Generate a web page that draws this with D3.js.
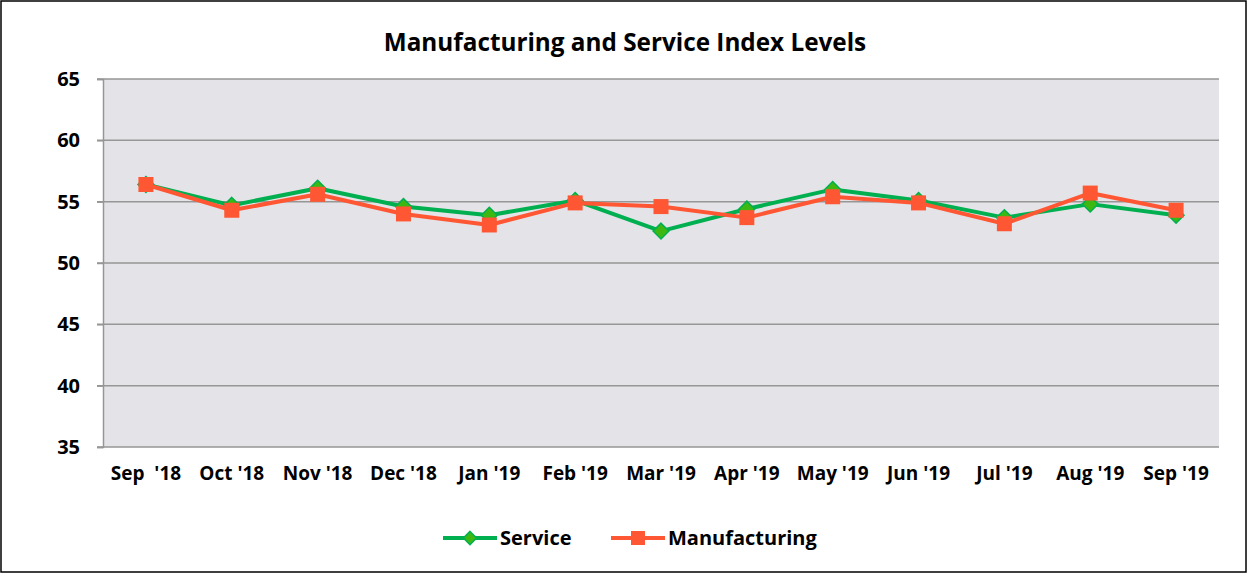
<!DOCTYPE html>
<html>
<head>
<meta charset="utf-8">
<script src="https://cdn.jsdelivr.net/npm/d3@7"></script>
<style>
  body { margin: 0; background: #fff; }
  text { font-family: "Open Sans", "Noto Sans", sans-serif; font-weight: bold; }
</style>
</head>
<body>
<script>
const months = ["Sep  '18", "Oct '18", "Nov '18", "Dec '18", "Jan '19", "Feb '19", "Mar '19",
                "Apr '19", "May '19", "Jun '19", "Jul '19", "Aug '19", "Sep '19"];
const service = [56.4, 54.7, 56.1, 54.6, 53.9, 55.1, 52.6, 54.4, 56.0, 55.1, 53.7, 54.8, 53.9];
const manufacturing = [56.4, 54.3, 55.6, 54.0, 53.1, 54.9, 54.6, 53.7, 55.4, 54.9, 53.2, 55.7, 54.3];
const yTicks = [35, 40, 45, 50, 55, 60, 65];

const width = 1249;
const height = 573;
const plotLeft = 103, plotRight = 1219, plotTop = 79, plotBottom = 447;

const green = "#00B050";
const greenFill = "#3DB812";
const orange = "#FF5733";

const svg = d3.select('body').append('svg')
    .attr('width', width)
    .attr('height', height);

// outer frame
svg.append('rect')
    .attr('x', 1).attr('y', 1)
    .attr('width', width - 4).attr('height', height - 2)
    .attr('fill', '#fff')
    .attr('stroke', '#000')
    .attr('stroke-width', 1.5);

svg.append('text')
    .attr('x', 625).attr('y', 51)
    .attr('text-anchor', 'middle')
    .style('font-size', '24.3px')
    .text('Manufacturing and Service Index Levels');

const xScale = d3.scaleBand()
    .domain(months)
    .range([plotLeft, plotRight]);

const yScale = d3.scaleLinear()
    .domain([35, 65])
    .range([plotBottom, plotTop]);

// plot background
svg.append('rect')
    .attr('x', plotLeft).attr('y', plotTop)
    .attr('width', plotRight - plotLeft).attr('height', plotBottom - plotTop)
    .attr('fill', '#E4E3E8');

// gridlines
svg.append('g')
    .selectAll('line')
    .data(yTicks)
    .enter().append('line')
        .attr('x1', plotLeft - 6).attr('x2', plotRight)
        .attr('y1', d => yScale(d)).attr('y2', d => yScale(d))
        .attr('stroke', '#969696')
        .attr('stroke-width', 1.5);

// y axis
const yAxis = svg.append('g')
    .attr('transform', `translate(${plotLeft},0)`)
    .call(d3.axisLeft(yScale).tickValues(yTicks).tickSize(6).tickPadding(17));
yAxis.select('.domain').attr('stroke', '#969696').attr('stroke-width', 1.5);
yAxis.selectAll('.tick line').attr('stroke', '#969696').attr('stroke-width', 1.5);
yAxis.selectAll('text')
    .style('font-size', '20px')
    .style('font-family', '"Open Sans", sans-serif')
    .style('font-weight', 'bold')
    .attr('fill', '#000');

// x axis
const xAxis = svg.append('g')
    .attr('transform', `translate(0,${plotBottom})`)
    .call(d3.axisBottom(xScale).tickSize(0).tickPadding(20));
xAxis.select('.domain').remove();
xAxis.selectAll('text')
    .style('font-size', '19px')
    .style('font-family', '"Open Sans", sans-serif')
    .style('font-weight', 'bold')
    .style('white-space', 'pre')
    .attr('fill', '#000');

const cx = (d, i) => xScale(months[i]) + xScale.bandwidth() / 2;

const line = d3.line()
    .x((d, i) => cx(d, i))
    .y(d => yScale(d));

// service
svg.append('path')
    .datum(service)
    .attr('d', line)
    .attr('fill', 'none')
    .attr('stroke', green)
    .attr('stroke-width', 4)
    .attr('stroke-linejoin', 'round');

const diamond = d3.symbol().type(d3.symbolDiamond2).size(160);
svg.append('g')
    .selectAll('path')
    .data(service)
    .enter().append('path')
        .attr('d', diamond)
        .attr('transform', (d, i) => `translate(${cx(d, i)},${yScale(d)})`)
        .attr('fill', greenFill)
        .attr('stroke', green)
        .attr('stroke-width', 1.5);

// manufacturing
svg.append('path')
    .datum(manufacturing)
    .attr('d', line)
    .attr('fill', 'none')
    .attr('stroke', orange)
    .attr('stroke-width', 4)
    .attr('stroke-linejoin', 'round');

svg.append('g')
    .selectAll('rect')
    .data(manufacturing)
    .enter().append('rect')
        .attr('x', (d, i) => cx(d, i) - 7.5)
        .attr('y', d => yScale(d) - 7.5)
        .attr('width', 15).attr('height', 15)
        .attr('fill', orange);

// legend
const legend = [
    {name: 'Service', color: green, x: 443},
    {name: 'Manufacturing', color: orange, x: 611}
];
const ly = 538;
legend.forEach(l => {
    svg.append('line')
        .attr('x1', l.x).attr('x2', l.x + 54)
        .attr('y1', ly).attr('y2', ly)
        .attr('stroke', l.color).attr('stroke-width', 4);
    if (l.name === 'Service') {
        svg.append('path')
            .attr('d', d3.symbol().type(d3.symbolDiamond2).size(110))
            .attr('transform', `translate(${l.x + 27},${ly})`)
            .attr('fill', greenFill).attr('stroke', green).attr('stroke-width', 1.5);
    } else {
        svg.append('rect')
            .attr('x', l.x + 20).attr('y', ly - 7)
            .attr('width', 14).attr('height', 14)
            .attr('fill', orange);
    }
    svg.append('text')
        .attr('x', l.x + 57).attr('y', ly + 7)
        .style('font-size', '20px')
        .text(l.name);
});
</script>
</body>
</html>
